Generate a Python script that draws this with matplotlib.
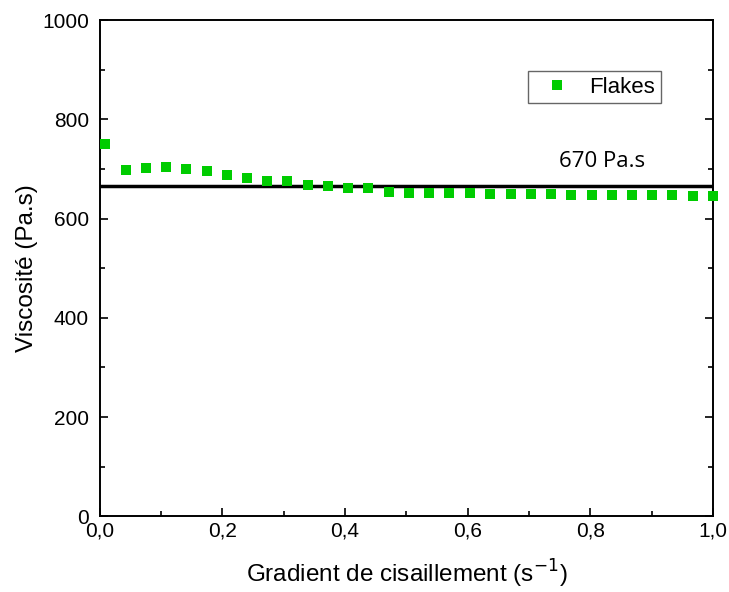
import matplotlib
matplotlib.use('Agg')
from matplotlib import pyplot as plt
from matplotlib.ticker import MultipleLocator, FuncFormatter

# shear rate (s-1) and viscosity (Pa.s)
shear_rate = [0.009, 0.042, 0.075, 0.108, 0.141, 0.174, 0.207, 0.240,
              0.273, 0.306, 0.340, 0.372, 0.405, 0.438, 0.471, 0.505,
              0.537, 0.570, 0.603, 0.636, 0.670, 0.703, 0.736, 0.769,
              0.802, 0.835, 0.868, 0.901, 0.934, 0.967, 1.000]
viscosity = [751, 698, 702, 703, 700, 695, 688, 682,
             675, 675, 667, 665, 661, 661, 653, 651,
             651, 651, 651, 650, 649, 649, 649, 648,
             648, 648, 648, 648, 648, 645, 646]
plateau = 665
plateau_label = '670 Pa.s'
series_name = 'Flakes'

plt.rcParams['font.family'] = ['Liberation Sans', 'DejaVu Sans']

fig = plt.figure(figsize=(7.29, 5.92), dpi=100)
ax = fig.add_axes([0.137, 0.128, 0.841, 0.838])

ax.plot(shear_rate, viscosity, 's', color='#00CC00', markersize=7.5,
        markeredgewidth=0, label=series_name, clip_on=False, zorder=3)
ax.axhline(plateau, color='black', linewidth=2.5, zorder=2)
ax.text(0.819, 703.6, plateau_label, fontsize=16, family=['Open Sans', 'DejaVu Sans'],
        ha='center', va='baseline')

ax.set_xlim(0, 1.0)
ax.set_ylim(0, 1000)
ax.xaxis.set_major_locator(MultipleLocator(0.2))
ax.xaxis.set_minor_locator(MultipleLocator(0.1))
ax.yaxis.set_major_locator(MultipleLocator(200))
ax.yaxis.set_minor_locator(MultipleLocator(100))
ax.xaxis.set_major_formatter(FuncFormatter(lambda v, p: ('%.1f' % v).replace('.', ',')))

ax.tick_params(which='both', direction='in', left=True, right=True,
               top=False, bottom=True, labelsize=15, width=1.2)
ax.tick_params(which='major', length=6)
ax.tick_params(axis='y', which='major', pad=8)
ax.tick_params(axis='x', which='major', pad=4)
ax.tick_params(which='minor', length=3.5)
for s in ax.spines.values():
    s.set_linewidth(1.4)

ax.set_xlabel('Gradient de cisaillement (s$^{-1}$)', fontsize=17.5, labelpad=12)
ax.set_ylabel('Viscosité (Pa.s)', fontsize=17.5, labelpad=3)

leg = ax.legend(loc='upper left', bbox_to_anchor=(0.698, 0.897), fontsize=16,
                fancybox=False, edgecolor='#666666', framealpha=1,
                handletextpad=0.43, borderpad=0.25, handlelength=2.1,
                borderaxespad=0)
leg.get_frame().set_linewidth(1.0)

fig.savefig('out.png', dpi=100)
